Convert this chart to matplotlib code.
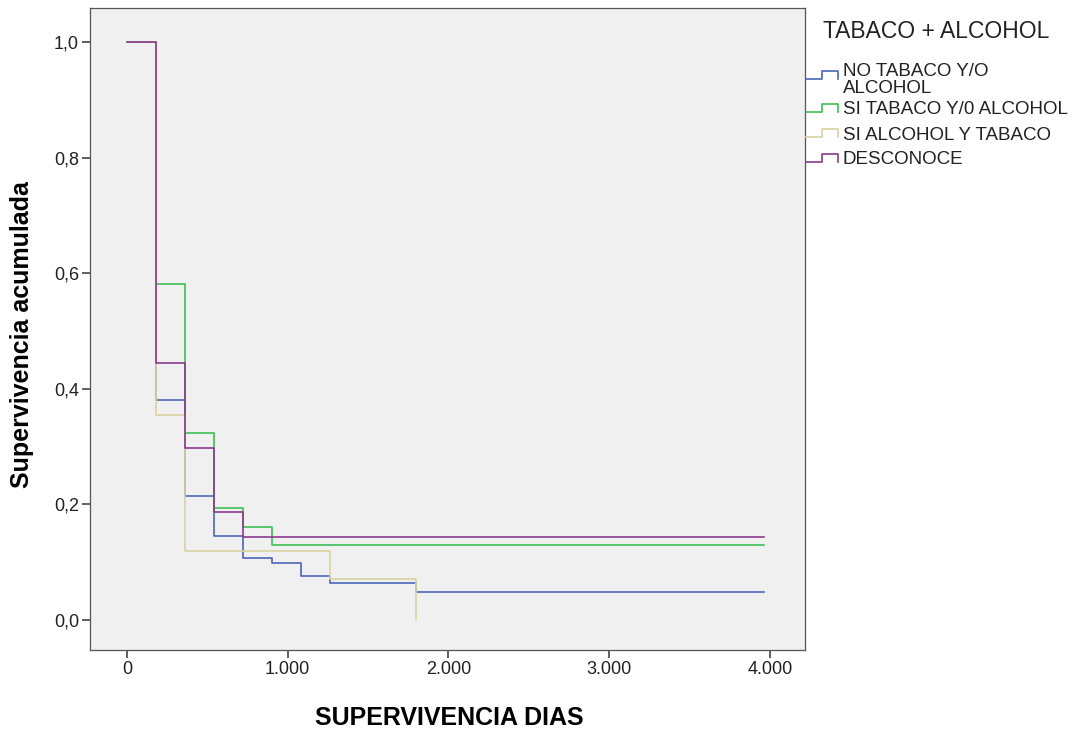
import numpy as np
import matplotlib

matplotlib.use("Agg")
import matplotlib.pyplot as plt
from matplotlib.lines import Line2D

plt.rcParams["font.family"] = ["Liberation Sans", "DejaVu Sans"]

# survival steps (days, cumulative survival)
groups = ["NO TABACO Y/O\nALCOHOL", "SI TABACO Y/0 ALCOHOL", "SI ALCOHOL Y TABACO", "DESCONOCE"]
colors = ["#4A66B8", "#3DBE55", "#D9D3A0", "#8A3A8C"]

t_no = [0, 180, 360, 540, 720, 900, 1080, 1260, 1800, 3960]
s_no = [1.0, 0.381, 0.2145, 0.145, 0.107, 0.099, 0.076, 0.064, 0.048, 0.048]

t_si = [0, 180, 360, 540, 720, 900, 3960]
s_si = [1.0, 0.581, 0.3235, 0.194, 0.161, 0.130, 0.130]

t_alc = [0, 180, 360, 1260, 1800]
s_alc = [1.0, 0.354, 0.119, 0.0704, 0.0]

t_des = [0, 180, 360, 540, 720, 3960]
s_des = [1.0, 0.445, 0.2976, 0.186, 0.1436, 0.1436]

series = [(t_no, s_no), (t_si, s_si), (t_alc, s_alc), (t_des, s_des)]

W, H = 1073, 733
fig = plt.figure(figsize=(W / 100, H / 100), dpi=100)
ax = fig.add_axes([90 / W, 1 - 650 / H, (805 - 90) / W, (650 - 8) / H])
ax.set_facecolor("#F0F0F0")

for (t, s), c in zip(series, colors):
    ax.step(t, s, where="post", color=c, linewidth=1.2)

ax.set_xlim(-230, 4218)
ax.set_ylim(-0.052, 1.059)
ax.set_xticks([0, 1000, 2000, 3000, 4000])
ax.set_xticklabels(["0", "1.000", "2.000", "3.000", "4.000"], fontsize=13)
ax.set_yticks([0, 0.2, 0.4, 0.6, 0.8, 1.0])
ax.set_yticklabels(["0,0", "0,2", "0,4", "0,6", "0,8", "1,0"], fontsize=13)
ax.tick_params(direction="out", length=6, width=1.2, pad=2, color="#444444", labelcolor="#222222")
for sp in ax.spines.values():
    sp.set_color("#555555")
    sp.set_linewidth(0.9)

fig.text(*(449.5 / W, 1 - 718 / H), "SUPERVIVENCIA DIAS", fontsize=18, fontweight="bold",
         ha="center", va="center")
fig.text(*(22 / W, 1 - 335 / H), "Supervivencia acumulada", fontsize=18, fontweight="bold",
         ha="center", va="center", rotation=90)

# legend drawn outside, step-shaped glyphs
def px(x, y):
    return x / W, 1 - y / H

fig.text(*px(823, 32), "TABACO + ALCOHOL", fontsize=16.5, va="center", ha="left", color="#222222")
rows = [79, 112, 137, 162]
for y0, c, name in zip(rows, colors, groups):
    xs = [806, 822, 822, 838, 838]
    ys = [y0, y0, y0 - 8, y0 - 8, y0]
    pts = [px(a, b) for a, b in zip(xs, ys)]
    fig.add_artist(Line2D([p[0] for p in pts], [p[1] for p in pts],
                          transform=fig.transFigure, color=c, linewidth=1.2))
    ty = y0 - 2 if "\n" not in name else y0 + 1
    fig.text(*px(843, ty), name, fontsize=13.5, va="center", ha="left",
             color="#222222", linespacing=1.0)

fig.savefig("out.png", dpi=100)
